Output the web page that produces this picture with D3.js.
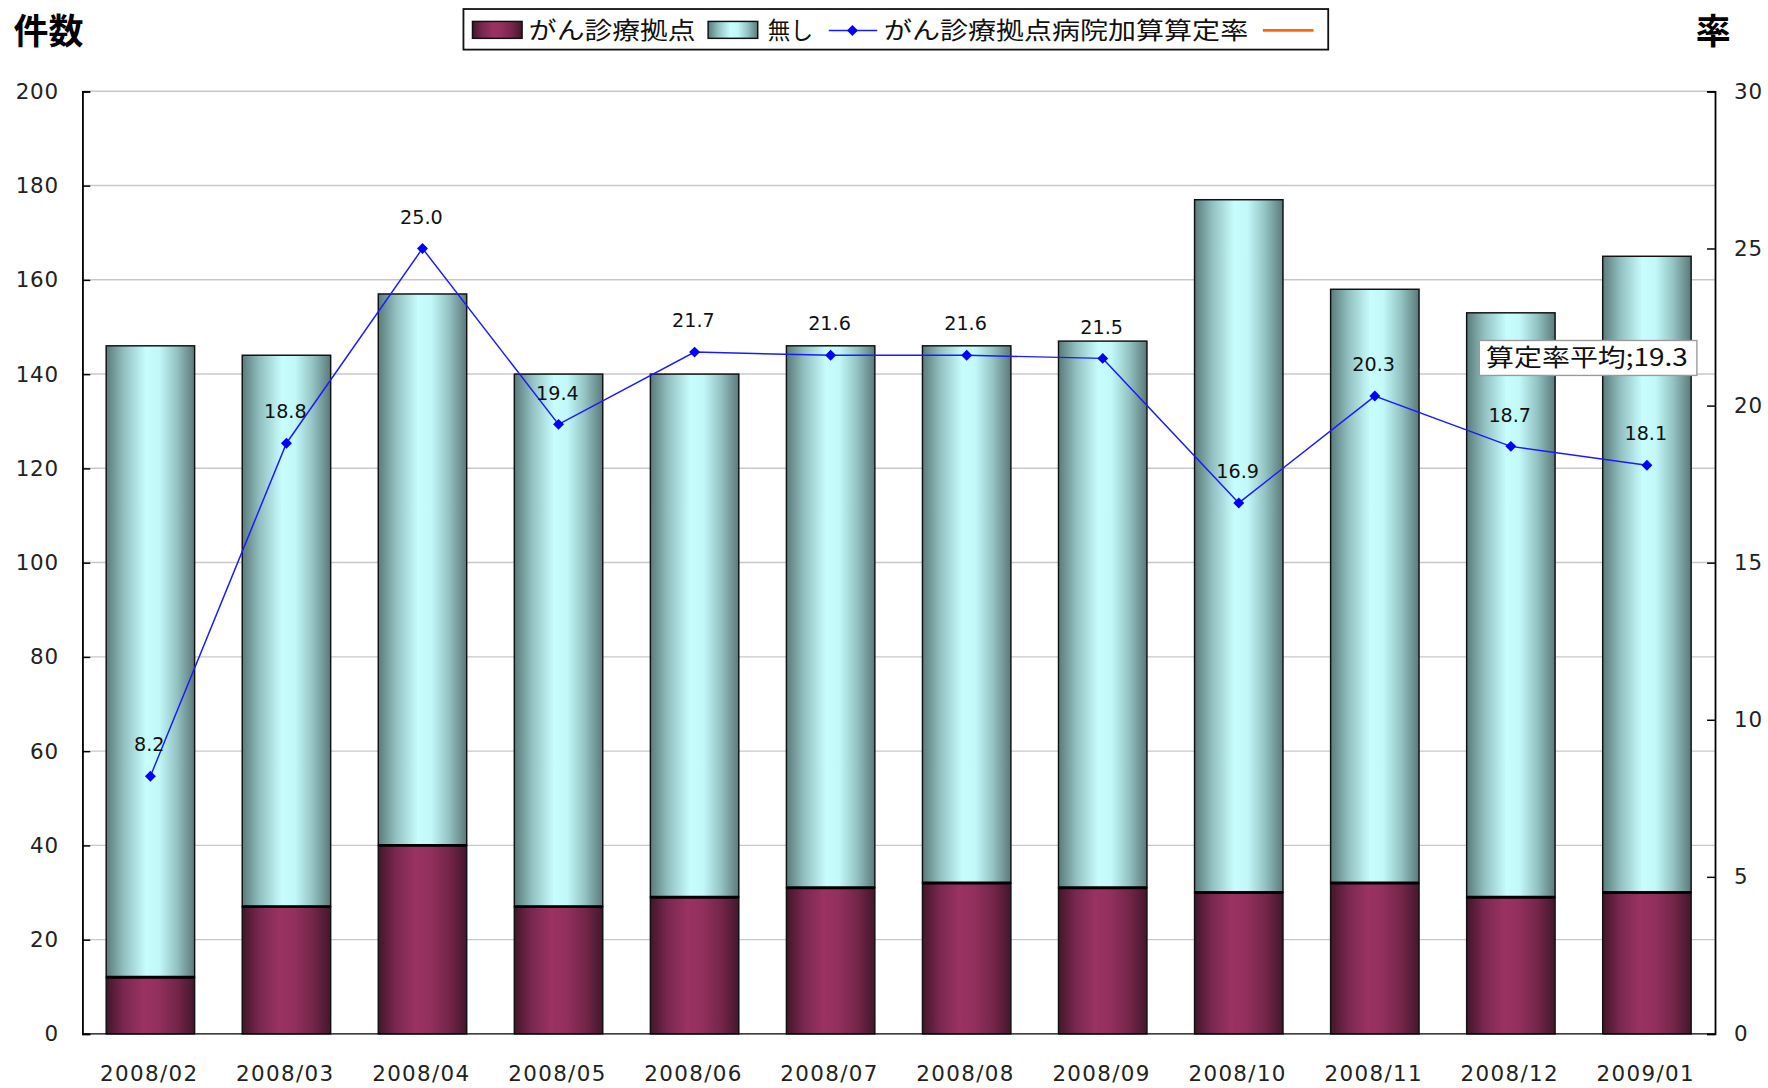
<!DOCTYPE html>
<html><head><meta charset="utf-8">
<script src="https://cdn.jsdelivr.net/npm/d3@7"></script>
<style>body{margin:0;background:#fff;} svg{display:block;}</style>
</head><body>
<script>
const categories = ["2008/02","2008/03","2008/04","2008/05","2008/06","2008/07","2008/08","2008/09","2008/10","2008/11","2008/12","2009/01"];
const kyoten = [12,27,40,27,29,31,32,31,30,32,29,30];
const totals = [146,144,157,140,140,146,146,147,177,158,153,165];
const nashi = totals.map((t,i)=>t-kyoten[i]);
const rates = [8.2,18.8,25.0,19.4,21.7,21.6,21.6,21.5,16.9,20.3,18.7,18.1];
const leftTicks = [0,20,40,60,80,100,120,140,160,180,200];
const rightTicks = [0,5,10,15,20,25,30];
const avgRate = 19.3;

const W=1568,H=965;
const font = "'Noto Sans CJK JP','Noto Sans',sans-serif";
const nfont = "'DejaVu Sans',sans-serif";
const svg = d3.select("body").append("svg").attr("width",1768).attr("height",1088).attr("viewBox",`0 0 ${W} ${H}`);
const L=73,R=1521,T=81,B=917;
const x = d3.scaleBand().domain(categories).range([L,R]).paddingInner(0.35).paddingOuter(0.175);
const y = d3.scaleLinear().domain([0,200]).range([B,T]);
const y2 = d3.scaleLinear().domain([0,30]).range([B,T]);

const defs = svg.append("defs");
function grad(id,stops){const g=defs.append("linearGradient").attr("id",id).attr("x1","0").attr("x2","1").attr("y1","0").attr("y2","0");
 stops.forEach(s=>g.append("stop").attr("offset",s[0]).attr("stop-color",s[1]));}
grad("gM",[[0,"#421629"],[0.2,"#7a2850"],[0.42,"#9a3262"],[0.58,"#93305e"],[0.8,"#742649"],[1,"#43172c"]]);
grad("gC",[[0,"#5a7a7a"],[0.2,"#92c0c0"],[0.45,"#c8fdfd"],[0.6,"#c2f8f8"],[0.8,"#93c2c2"],[1,"#5b7979"]]);

// gridlines
svg.append("g").selectAll("line").data(leftTicks.filter(d=>d>0)).join("line")
 .attr("x1",L).attr("x2",R).attr("y1",d=>y(d)).attr("y2",d=>y(d)).attr("stroke","#c8c8c8").attr("stroke-width",1.3);

// bars
const bars = svg.append("g");
categories.forEach((c,i)=>{
  const bx=x(c), bw=x.bandwidth();
  bars.append("rect").attr("x",bx).attr("width",bw).attr("y",y(totals[i])).attr("height",y(kyoten[i])-y(totals[i]))
    .attr("fill","url(#gC)").attr("stroke","#111").attr("stroke-width",1.3);
  bars.append("rect").attr("x",bx).attr("width",bw).attr("y",y(kyoten[i])).attr("height",y(0)-y(kyoten[i]))
    .attr("fill","url(#gM)").attr("stroke","#111").attr("stroke-width",1.3);
  bars.append("line").attr("x1",bx).attr("x2",bx+bw).attr("y1",y(kyoten[i])).attr("y2",y(kyoten[i])).attr("stroke","#000").attr("stroke-width",2.6);
});

// axes
const axL = svg.append("g").attr("transform",`translate(${L},0)`).call(d3.axisLeft(y).tickValues(leftTicks).tickSize(-7).tickPadding(21));
const axR = svg.append("g").attr("transform",`translate(${R},0)`).call(d3.axisRight(y2).tickValues(rightTicks).tickSize(-7).tickPadding(17));
[axL,axR].forEach(a=>{a.select(".domain").attr("stroke","#000").attr("stroke-width",1.6);
 a.selectAll(".tick line").attr("stroke","#000").attr("stroke-width",1.3);
 a.selectAll("text").attr("font-family",nfont).attr("font-size",19).attr("letter-spacing",0.6).attr("fill","#222");});
svg.append("line").attr("x1",L).attr("x2",R).attr("y1",B).attr("y2",B).attr("stroke","#000").attr("stroke-width",1.3);
const axB = svg.append("g").attr("transform",`translate(0,${B})`).call(d3.axisBottom(x).tickSize(0).tickPadding(28));
axB.select(".domain").remove();
axB.selectAll("text").attr("font-family",nfont).attr("font-size",19).attr("letter-spacing",1.2).attr("fill","#222")
 .attr("dx",-1);

// rate line
const cx = c=>x(c)+x.bandwidth()/2;
svg.append("path").datum(rates).attr("fill","none").attr("stroke","#1a1aff").attr("stroke-width",1.3)
 .attr("d",d3.line().x((d,i)=>cx(categories[i])).y(d=>y2(d)));
svg.append("g").selectAll("path").data(rates).join("path")
 .attr("transform",(d,i)=>`translate(${cx(categories[i])},${y2(d)})`)
 .attr("d",d3.symbol(d3.symbolDiamond2,60)).attr("fill","#0000ff");
svg.append("g").selectAll("text").data(rates).join("text")
 .attr("x",(d,i)=>cx(categories[i])-1).attr("y",d=>y2(d)-22).attr("text-anchor","middle")
 .attr("font-family",nfont).attr("font-size",17).attr("fill","#111").text(d=>d.toFixed(1));

// avg annotation
const ag = svg.append("g");
ag.append("rect").attr("x",1312).attr("y",302).attr("width",193).attr("height",31).attr("fill","#fff").attr("stroke","#999").attr("stroke-width",1.2);
ag.append("text").attr("x",1318).attr("y",325).attr("textLength",179).attr("lengthAdjust","spacingAndGlyphs").attr("font-family",font).attr("font-size",21).attr("fill","#111").text("算定率平均;"+avgRate.toFixed(1));

// titles
svg.append("text").attr("x",12).attr("y",39).attr("font-family",font).attr("font-size",31).attr("font-weight","bold").text("件数");
svg.append("text").attr("x",1504).attr("y",39).attr("font-family",font).attr("font-size",31).attr("font-weight","bold").text("率");

// legend
const lg = svg.append("g");
lg.append("rect").attr("x",411).attr("y",8).attr("width",767).attr("height",36).attr("fill","#fff").attr("stroke","#111").attr("stroke-width",1.6);
lg.append("rect").attr("x",419).attr("y",19).attr("width",44).attr("height",15).attr("fill","url(#gM)").attr("stroke","#111").attr("stroke-width",1.3);
lg.append("rect").attr("x",628).attr("y",19).attr("width",44).attr("height",15).attr("fill","url(#gC)").attr("stroke","#111").attr("stroke-width",1.3);
lg.append("line").attr("x1",735).attr("x2",778).attr("y1",27).attr("y2",27).attr("stroke","#1a1aff").attr("stroke-width",1.3);
lg.append("path").attr("transform","translate(756,27)").attr("d",d3.symbol(d3.symbolDiamond2,60)).attr("fill","#0000ff");
lg.append("line").attr("x1",1120).attr("x2",1165).attr("y1",27).attr("y2",27).attr("stroke","#ff6a00").attr("stroke-width",2.5);
const lt = [["がん診療拠点",469,148],["無し",681,40],["がん診療拠点病院加算算定率",784,323]];
lg.selectAll("text.l").data(lt).join("text").attr("x",d=>d[1]).attr("y",35).attr("textLength",d=>d[2]).attr("lengthAdjust","spacingAndGlyphs")
 .attr("font-family",font).attr("font-size",21).attr("fill","#111").text(d=>d[0]);
</script>
</body></html>
